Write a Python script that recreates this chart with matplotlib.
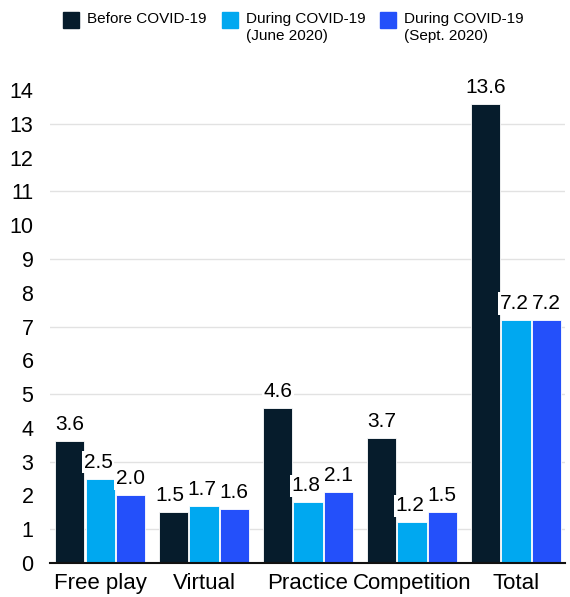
import matplotlib.pyplot as plt
from matplotlib.patches import Rectangle

plt.rcParams['font.family'] = ['Liberation Sans', 'DejaVu Sans']

categories = ['Free play', 'Virtual', 'Practice', 'Competition', 'Total']
series = ['Before COVID-19', 'During COVID-19\n(June 2020)', 'During COVID-19\n(Sept. 2020)']
before = [3.6, 1.5, 4.6, 3.7, 13.6]
june = [2.5, 1.7, 1.8, 1.2, 7.2]
sept = [2.0, 1.6, 2.1, 1.5, 7.2]
colors = ['#061c2c', '#00a8f0', '#2450fa']

fig = plt.figure(figsize=(5.7, 5.97), dpi=100)
ax = fig.add_axes([0.088, 0.057, 0.903, 0.792])

x = list(range(len(categories)))
width = 0.28
offsets = [-0.29, 0.0, 0.29]
labels = [[] for _ in x]  # per category, left to right
for vals, off, c in zip([before, june, sept], offsets, colors):
    pos = [i + off for i in x]
    ax.bar(pos, vals, width, color=c, edgecolor='white', linewidth=0.6, zorder=2)
    for i, (p, v) in enumerate(zip(pos, vals)):
        t = ax.annotate('%.1f' % v, (p, v), xytext=(0, 5), textcoords='offset points',
                        ha='center', va='bottom', fontsize=15, zorder=3, annotation_clip=False,
                        bbox=dict(boxstyle='square,pad=0.08', fc='white', ec='none'))
        labels[i].append(t)

ax.set_xlim(-0.48, 4.47)
ax.set_ylim(0, 14)
ax.set_yticks(range(0, 15))
ax.set_yticklabels([str(t) for t in range(0, 15)], fontsize=15.5)
for g in range(1, 15, 2):
    ax.axhline(g, color='#e2e2e2', linewidth=1, zorder=1)
ax.set_xticks(x)
ax.set_xticklabels(categories, fontsize=16)
ax.tick_params(axis='both', length=0)
ax.tick_params(axis='y', pad=12)
ax.tick_params(axis='x', pad=7)
for s in ['top', 'right', 'left']:
    ax.spines[s].set_visible(False)
ax.spines['bottom'].set_color('#111111')
ax.spines['bottom'].set_linewidth(1.5)

# nudge value labels that collide with their right neighbour
fig.canvas.draw()
r = fig.canvas.get_renderer()
for grp in labels:
    for j in range(len(grp) - 2, -1, -1):
        a = grp[j].get_window_extent(r)
        b = grp[j + 1].get_window_extent(r)
        if a.y1 > b.y0 and b.y1 > a.y0 and a.x1 + 3 > b.x0:
            shift = (a.x1 + 3 - b.x0) * 72 / fig.dpi
            dx, dy = grp[j].xyann
            grp[j].xyann = (dx - shift, dy)

# legend drawn by hand so the square sits at the first line
leg_x = [63, 222, 380]
for lx, lab, c in zip(leg_x, series, colors):
    fig.patches.append(Rectangle((lx / 570, 1 - 28 / 597), 16 / 570, 16 / 597,
                                 transform=fig.transFigure, color=c, figure=fig))
    fig.text((lx + 24) / 570, 1 - 12 / 597, lab, fontsize=11, ha='left', va='top',
             linespacing=1.3)

fig.savefig('out.png', dpi=100)
